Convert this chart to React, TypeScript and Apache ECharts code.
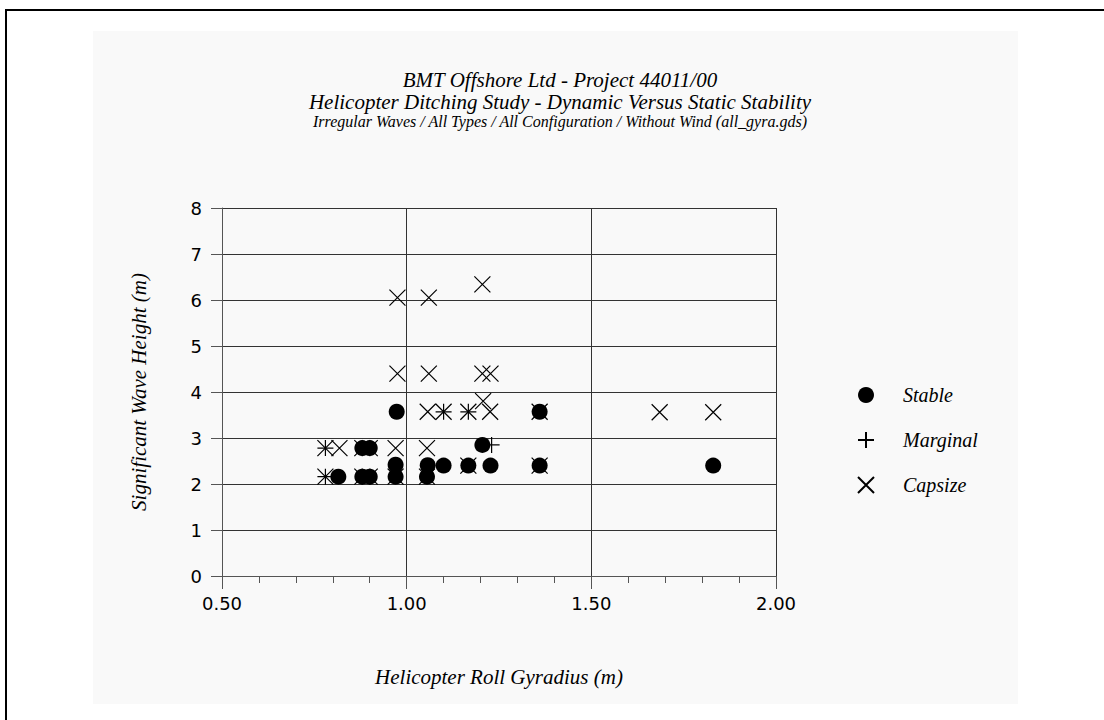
import React, { useEffect, useRef } from "react";
import * as echarts from "echarts";

const titleLines = [
  "BMT Offshore Ltd - Project 44011/00",
  "Helicopter Ditching Study - Dynamic Versus Static Stability",
];
const subTitle =
  "Irregular Waves / All Types / All Configuration / Without Wind (all_gyra.gds)";
const xAxisName = "Helicopter Roll Gyradius (m)";
const yAxisName = "Significant Wave Height (m)";
const seriesNames = ["Stable", "Marginal", "Capsize"];

const stablePoints: number[][] = [
  [0.815, 2.16], [0.88, 2.16], [0.9, 2.16], [0.97, 2.16], [1.055, 2.16],
  [0.97, 2.42], [1.057, 2.41], [1.1, 2.4], [1.167, 2.4], [1.227, 2.4], [1.36, 2.4], [1.83, 2.4],
  [0.88, 2.78], [0.9, 2.78],
  [1.205, 2.85],
  [0.973, 3.57], [1.36, 3.57],
];
const marginalPoints: number[][] = [
  [0.78, 2.16], [0.78, 2.78], [1.1, 3.57], [1.167, 3.57], [1.23, 2.85],
];
const capsizePoints: number[][] = [
  [0.78, 2.16], [0.88, 2.16], [0.9, 2.16], [0.97, 2.16], [1.055, 2.16],
  [1.167, 2.4], [1.36, 2.4],
  [0.78, 2.78], [0.818, 2.78], [0.88, 2.78], [0.9, 2.78], [0.97, 2.78], [1.055, 2.78],
  [1.057, 3.57], [1.1, 3.57], [1.167, 3.57], [1.226, 3.57], [1.36, 3.57], [1.685, 3.56], [1.83, 3.56],
  [1.207, 3.8],
  [0.975, 4.4], [1.06, 4.4], [1.205, 4.4], [1.227, 4.4],
  [0.975, 6.05], [1.06, 6.05], [1.205, 6.34],
];

const SERIF = "'Liberation Serif', 'Times New Roman', serif";
const SANS = "'DejaVu Sans', 'Liberation Sans', Arial, sans-serif";

export default function App() {
  const ref = useRef<HTMLDivElement>(null);
  useEffect(() => {
    if (!ref.current) return;
    const chart = echarts.init(ref.current, undefined, { renderer: "svg" });
    const strokeStyle = {
      color: "rgba(0,0,0,0)",
      borderColor: "#000",
      borderWidth: 1.2,
      opacity: 1,
    };
    chart.setOption({
      animation: false,
      backgroundColor: "#ffffff",
      graphic: [
        {
          type: "rect",
          shape: { x: 93, y: 31, width: 925, height: 673 },
          style: { fill: "#f9f9f9" },
          z: -9,
          silent: true,
        },
        {
          type: "polyline",
          shape: { points: [[6, 900], [6, 10], [1300, 10]] },
          style: { fill: "none", stroke: "#000", lineWidth: 2 },
          z: -8,
          silent: true,
        },
      ],
      title: {
        text: titleLines.join("\n"),
        subtext: subTitle,
        left: 555,
        top: 64,
        textAlign: "center",
        itemGap: 0,
        textStyle: {
          fontFamily: SERIF,
          fontStyle: "italic",
          fontWeight: "normal",
          fontSize: 21,
          lineHeight: 22,
          color: "#000",
        },
        subtextStyle: {
          fontFamily: SERIF,
          fontStyle: "italic",
          fontSize: 16,
          lineHeight: 16,
          color: "#000",
        },
      },
      legend: {
        data: seriesNames,
        orient: "vertical",
        left: 857,
        top: 385,
        padding: 0,
        itemWidth: 16,
        itemHeight: 16,
        itemGap: 25,
        textStyle: {
          fontFamily: SERIF,
          fontStyle: "italic",
          fontSize: 20,
          lineHeight: 16,
          color: "#000",
          padding: [0, 0, 0, 24],
        },
      },
      grid: { left: 222, top: 208, right: 328, bottom: 144, containLabel: false },
      xAxis: {
        type: "value",
        min: 0.5,
        max: 2.0,
        interval: 0.5,
        name: xAxisName,
        nameLocation: "middle",
        nameGap: 90,
        nameTextStyle: {
          fontFamily: SERIF,
          fontStyle: "italic",
          fontSize: 21,
          color: "#000",
        },
        axisLine: { show: true, onZero: false, lineStyle: { color: "#555", width: 1 } },
        axisTick: { show: true, inside: false, length: 13, lineStyle: { color: "#555" } },
        minorTick: { show: true, splitNumber: 5, length: 7, lineStyle: { color: "#555" } },
        axisLabel: {
          margin: 18,
          fontFamily: SANS,
          fontSize: 18,
          color: "#000",
          formatter: (v: number) => v.toFixed(2),
        },
        splitLine: { show: true, lineStyle: { color: "#333", width: 1 } },
      },
      yAxis: {
        type: "value",
        min: 0,
        max: 8,
        interval: 1,
        name: yAxisName,
        nameLocation: "middle",
        nameGap: 73,
        nameTextStyle: {
          fontFamily: SERIF,
          fontStyle: "italic",
          fontSize: 21,
          color: "#000",
        },
        axisLine: { show: true, onZero: false, lineStyle: { color: "#555", width: 1 } },
        axisTick: { show: true, inside: false, length: 11, lineStyle: { color: "#555" } },
        axisLabel: {
          margin: 20,
          fontFamily: SANS,
          fontSize: 18,
          color: "#000",
        },
        splitLine: { show: true, lineStyle: { color: "#333", width: 1 } },
      },
      series: [
        {
          name: "Capsize",
          type: "scatter",
          symbol: "path://M0,0L16,16M16,0L0,16",
          symbolSize: 16,
          itemStyle: strokeStyle,
          data: capsizePoints,
          z: 2,
          emphasis: { disabled: true },
        },
        {
          name: "Marginal",
          type: "scatter",
          symbol: "path://M8,0L8,16M0,8L16,8",
          symbolSize: 16,
          itemStyle: strokeStyle,
          data: marginalPoints,
          z: 3,
          emphasis: { disabled: true },
        },
        {
          name: "Stable",
          type: "scatter",
          symbol: "circle",
          symbolSize: 16,
          itemStyle: { color: "#000", opacity: 1 },
          data: stablePoints,
          z: 4,
          emphasis: { disabled: true },
        },
      ],
    });
    return () => chart.dispose();
  }, []);
  return (
    <div
      ref={ref}
      style={{ position: "absolute", left: 0, top: 0, width: 1104, height: 720 }}
    />
  );
}
